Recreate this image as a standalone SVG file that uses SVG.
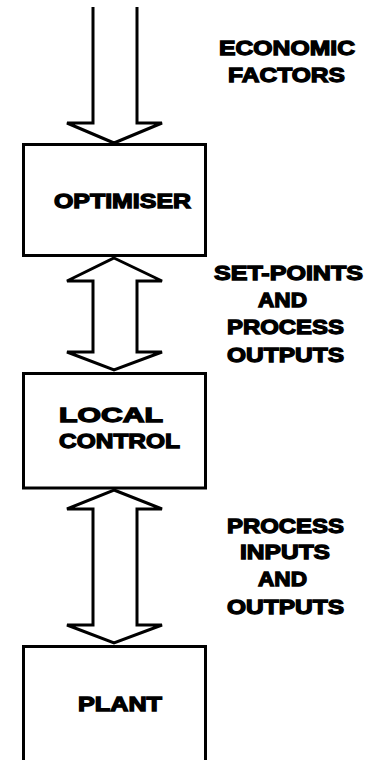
<svg xmlns="http://www.w3.org/2000/svg" width="375" height="760" viewBox="0 0 375 760">
<style>
.box{fill:#fff;stroke:#000;stroke-width:3}
.arr{fill:#fff;stroke:#000;stroke-width:3;stroke-linejoin:miter}
.t{font-family:"Liberation Sans",Arial,sans-serif;font-weight:bold;font-size:21px;fill:#000;stroke:#000;stroke-width:1.3;stroke-linejoin:miter}
</style>
<rect width="375" height="760" fill="#fff"/>
<g id="connectors">
<path class="arr" d="M93,7 V123 H67 L114,143 L162,123 H137 V7"/>
<polygon class="arr" points="114,258 162,281 137,281 137,352 162,352 114,370 67,352 93,352 93,281 67,281"/>
<polygon class="arr" points="114,490 162,509 137,509 137,625 162,625 114,643 67,625 93,625 93,509 67,509"/>
</g>
<g id="optimiser">
<rect class="box" x="23.5" y="144.5" width="182" height="111"/>
<text class="t" x="54" y="208" textLength="137" lengthAdjust="spacingAndGlyphs">OPTIMISER</text>
</g>
<g id="local-control">
<rect class="box" x="23.5" y="373.5" width="182" height="114.5"/>
<text class="t" x="59" y="422" textLength="104" lengthAdjust="spacingAndGlyphs">LOCAL</text>
<text class="t" x="59" y="448" textLength="121" lengthAdjust="spacingAndGlyphs">CONTROL</text>
</g>
<g id="plant">
<path class="box" d="M23.5,762 V646.5 H205.5 V762"/>
<text class="t" x="78" y="711" textLength="84" lengthAdjust="spacingAndGlyphs">PLANT</text>
</g>
<g id="label-economic">
<text class="t" x="219" y="55" textLength="136" lengthAdjust="spacingAndGlyphs">ECONOMIC</text>
<text class="t" x="228" y="82" textLength="117" lengthAdjust="spacingAndGlyphs">FACTORS</text>
</g>
<g id="label-setpoints">
<text class="t" x="214" y="280" textLength="149" lengthAdjust="spacingAndGlyphs">SET-POINTS</text>
<text class="t" x="258" y="307" textLength="49" lengthAdjust="spacingAndGlyphs">AND</text>
<text class="t" x="227" y="334" textLength="117" lengthAdjust="spacingAndGlyphs">PROCESS</text>
<text class="t" x="227" y="362" textLength="117" lengthAdjust="spacingAndGlyphs">OUTPUTS</text>
</g>
<g id="label-process">
<text class="t" x="227" y="533" textLength="117" lengthAdjust="spacingAndGlyphs">PROCESS</text>
<text class="t" x="240" y="559" textLength="90" lengthAdjust="spacingAndGlyphs">INPUTS</text>
<text class="t" x="258" y="586" textLength="49" lengthAdjust="spacingAndGlyphs">AND</text>
<text class="t" x="227" y="614" textLength="117" lengthAdjust="spacingAndGlyphs">OUTPUTS</text>
</g>
</svg>
